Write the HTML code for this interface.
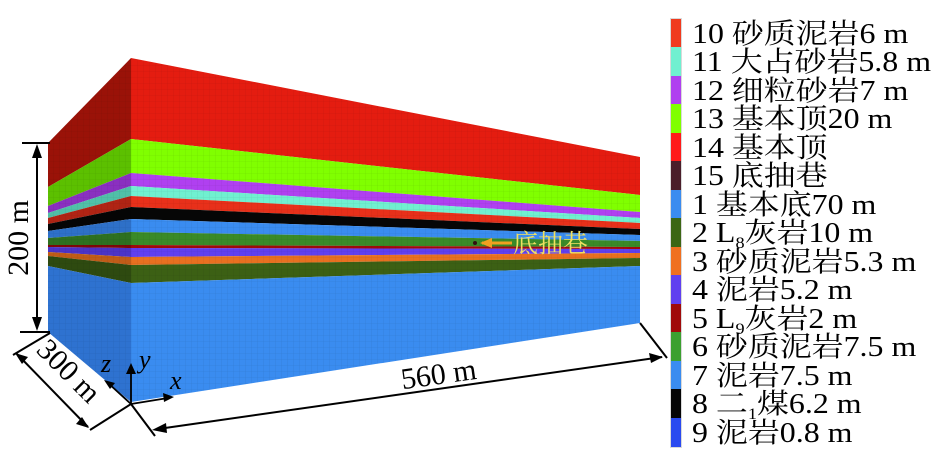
<!DOCTYPE html>
<html><head><meta charset="utf-8"><style>
body{margin:0;background:#fff;width:945px;height:452px;overflow:hidden}
svg{display:block}
text{font-family:"Liberation Serif","Noto Serif CJK SC",serif}
</style></head><body>
<svg width="945" height="452" viewBox="0 0 945 452" xmlns="http://www.w3.org/2000/svg">
<defs>
<pattern id="g" width="6" height="6" patternUnits="userSpaceOnUse">
<path d="M6 0V6M0 6H6" stroke="#000" stroke-opacity="0.12" stroke-width="0.6" fill="none"/>
</pattern>
</defs>
<g>
<polygon points="131,58 640,157 640,195 131,139" fill="#e41c10"/>
<polygon points="131,139 640,195 640,212 131,173" fill="#80ff00"/>
<polygon points="131,173 640,212 640,218 131,186" fill="#b040f0"/>
<polygon points="131,186 640,218 640,223 131,196" fill="#70f0d0"/>
<polygon points="131,196 640,223 640,229 131,207" fill="#e8301a"/>
<polygon points="131,207 640,229 640,235 131,219" fill="#060606"/>
<polygon points="131,219 640,235 640,241 131,232" fill="#3a8cf0"/>
<polygon points="131,232 640,241 640,247 131,245" fill="#3a8a28"/>
<polygon points="131,245 640,247 640,249 131,248" fill="#a00a0a"/>
<polygon points="131,248 640,249 640,253 131,257" fill="#6040f0"/>
<polygon points="131,257 640,253 640,258 131,265" fill="#e87020"/>
<polygon points="131,265 640,258 640,266 131,283" fill="#3c6014"/>
<polygon points="131,283 640,266 640,323 131,402" fill="#3a8cf0"/>
<polygon points="131,58 640,157 640,323 131,402" fill="url(#g)"/>
</g>
<g>
<polygon points="48,143 131,58 131,139 48,187" fill="#9a1208"/>
<polygon points="48,187 131,139 131,173 48,206" fill="#5cc000"/>
<polygon points="48,206 131,173 131,186 48,213" fill="#8a30c0"/>
<polygon points="48,213 131,186 131,196 48,218" fill="#50c0a8"/>
<polygon points="48,218 131,196 131,207 48,224" fill="#b02414"/>
<polygon points="48,224 131,207 131,219 48,231" fill="#050505"/>
<polygon points="48,231 131,219 131,232 48,238" fill="#2e70c8"/>
<polygon points="48,238 131,232 131,245 48,245" fill="#2e7020"/>
<polygon points="48,245 131,245 131,248 48,247" fill="#800808"/>
<polygon points="48,247 131,248 131,257 48,252" fill="#4c34c8"/>
<polygon points="48,252 131,257 131,265 48,256" fill="#c05c18"/>
<polygon points="48,256 131,265 131,283 48,266" fill="#2e4a10"/>
<polygon points="48,266 131,283 131,402 48,332" fill="#2e72d0"/>
<polygon points="48,143 131,58 131,402 48,332" fill="url(#g)"/>
</g>
<circle cx="475" cy="243" r="2" fill="#301010"/>
<line x1="482" y1="243" x2="512" y2="243" stroke="#f0a020" stroke-width="3"/>
<polygon points="480,243 492,238 492,248" fill="#f0a020"/>
<text x="513" y="252" font-size="25" fill="#f0e060">底抽巷</text>
<g stroke="#000" stroke-width="2" fill="none">
<line x1="22" y1="143" x2="50" y2="143"/>
<line x1="20" y1="332" x2="50" y2="332"/>
<line x1="37" y1="150" x2="37" y2="325"/>
</g>
<polygon points="37,144 32,158 42,158" fill="#000"/>
<polygon points="37,331 32,317 42,317" fill="#000"/>
<text transform="translate(28,238) rotate(-90)" font-size="30" text-anchor="middle">200 m</text>
<g stroke="#000" stroke-width="2" fill="none">
<line x1="13" y1="355" x2="50" y2="333"/>
<line x1="17" y1="354" x2="88" y2="427"/>
<line x1="90" y1="430" x2="131" y2="404"/>
<line x1="131" y1="404" x2="155" y2="436"/>
<line x1="640" y1="323" x2="667" y2="358"/>
<line x1="158" y1="429" x2="662" y2="357"/>
</g>
<polygon points="15,353 28,357 22,364" fill="#000"/>
<polygon points="89,428 76,424 82,417" fill="#000"/>
<polygon points="152,430 166,423 167,433" fill="#000"/>
<polygon points="663,357 649,353 651,363" fill="#000"/>
<text transform="translate(62,378) rotate(45)" font-size="30" text-anchor="middle">300 m</text>
<text transform="translate(440,384) rotate(-8)" font-size="30" text-anchor="middle">560 m</text>
<g stroke="#000" stroke-width="1.8">
<line x1="131" y1="404" x2="108" y2="383"/>
<line x1="131" y1="404" x2="131" y2="368"/>
<line x1="131" y1="404" x2="168" y2="398"/>
</g>
<polygon points="104,380 115,383 110,389" fill="#000"/>
<polygon points="131,363 126,374 136,374" fill="#000"/>
<polygon points="174,397 163,393 164,402" fill="#000"/>
<text x="101" y="372" font-size="26" font-style="italic">z</text>
<text x="139" y="368" font-size="26" font-style="italic">y</text>
<text x="170" y="389" font-size="26" font-style="italic">x</text>
<g>
<rect x="670" y="18" width="12" height="430" fill="#000" opacity="0.15"/>
<rect x="671" y="19" width="10" height="28" fill="#f03a1e"/>
<rect x="671" y="47" width="10" height="29" fill="#70f0d0"/>
<rect x="671" y="76" width="10" height="28" fill="#b040f0"/>
<rect x="671" y="104" width="10" height="29" fill="#80ff00"/>
<rect x="671" y="133" width="10" height="28" fill="#ff1a1a"/>
<rect x="671" y="161" width="10" height="29" fill="#4a1e2a"/>
<rect x="671" y="190" width="10" height="28" fill="#3a8cf0"/>
<rect x="671" y="218" width="10" height="29" fill="#3c6614"/>
<rect x="671" y="247" width="10" height="28" fill="#f07020"/>
<rect x="671" y="275" width="10" height="29" fill="#6040f0"/>
<rect x="671" y="304" width="10" height="28" fill="#a00a0a"/>
<rect x="671" y="332" width="10" height="29" fill="#3ca030"/>
<rect x="671" y="361" width="10" height="28" fill="#3a8cf0"/>
<rect x="671" y="389" width="10" height="29" fill="#050505"/>
<rect x="671" y="418" width="10" height="29" fill="#2a4af0"/>
</g>
<g font-size="28" fill="#000" transform="translate(692,0) scale(1.14,1)">
<text x="0" y="43">10 砂质泥岩6 m</text>
<text x="0" y="71">11 大占砂岩5.8 m</text>
<text x="0" y="100">12 细粒砂岩7 m</text>
<text x="0" y="128">13 基本顶20 m</text>
<text x="0" y="157">14 基本顶</text>
<text x="0" y="185">15 底抽巷</text>
<text x="0" y="214">1 基本底70 m</text>
<text x="0" y="242">2 L<tspan font-size="16" dy="6">8</tspan><tspan dy="-6">灰岩10 m</tspan></text>
<text x="0" y="271">3 砂质泥岩5.3 m</text>
<text x="0" y="299">4 泥岩5.2 m</text>
<text x="0" y="328">5 L<tspan font-size="16" dy="6">9</tspan><tspan dy="-6">灰岩2 m</tspan></text>
<text x="0" y="356">6 砂质泥岩7.5 m</text>
<text x="0" y="385">7 泥岩7.5 m</text>
<text x="0" y="413">8 二<tspan font-size="16" dy="6">1</tspan><tspan dy="-6">煤6.2 m</tspan></text>
<text x="0" y="442">9 泥岩0.8 m</text>
</g>
</svg>
</body></html>
